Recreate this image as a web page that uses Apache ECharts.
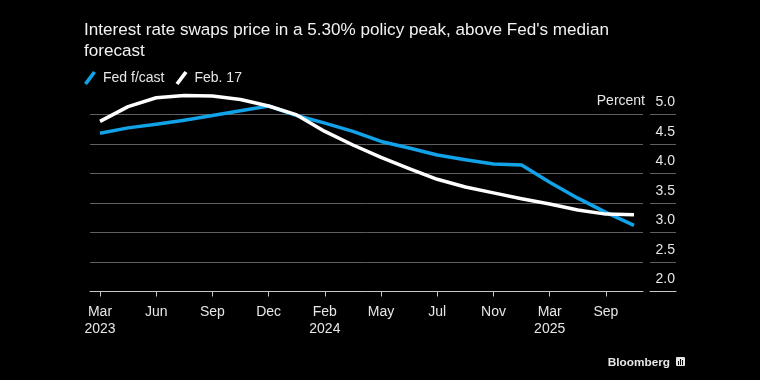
<!DOCTYPE html>
<html>
<head>
<meta charset="utf-8">
<style>
    html, body { margin: 0; padding: 0; background: #000; }
    #chart { width: 760px; height: 380px; }
</style>
<script src="https://cdn.jsdelivr.net/npm/echarts@6/dist/echarts.min.js"></script>
</head>
<body>
<div id="chart"></div>
<script>
// blank entries are the unlabelled steps between ticks
const categories = ['Mar\n2023', '', 'Jun', '', 'Sep', '', 'Dec', '', 'Feb\n2024', '', 'May', '', 'Jul', '', 'Nov', '', 'Mar\n2025', '', 'Sep', ''];
const fedForecast = [4.68, 4.77, 4.83, 4.90, 4.98, 5.06, 5.14, 4.98, 4.85, 4.71, 4.54, 4.43, 4.31, 4.23, 4.16, 4.14, 3.85, 3.58, 3.34, 3.12];
const feb17 = [4.88, 5.13, 5.28, 5.32, 5.31, 5.25, 5.14, 4.99, 4.71, 4.48, 4.27, 4.08, 3.90, 3.77, 3.67, 3.57, 3.48, 3.38, 3.31, 3.30];
const yMin = 2.0;
const yMax = 5.0;
const yStep = 0.5;

const FONT = '"Liberation Sans", Arial, sans-serif';
const slash = 'path://M0 12 L9 0 L12 2 L3 14 Z';
const GRID_LINE = '#5f5f5f';
const AXIS_LINE = '#c8c8c8';

const chart = echarts.init(document.getElementById('chart'));

// grids: 0 = long rules behind the lines, 1 = the data, 2 = short rules + labels on the right
const gridBox = [
    { left: 90, width: 553, top: 114.3, height: 177.2 },
    { left: 100, width: 534, top: 114.3, height: 177.2 },
    { left: 650, width: 26, top: 114.3, height: 177.2 }
];

function ruleAxis(gridIndex) {
    return {
        type: 'value',
        gridIndex: gridIndex,
        min: yMin,
        max: yMax,
        interval: yStep,
        axisLine: { show: false },
        axisTick: { show: false },
        axisLabel: { show: false },
        splitLine: { show: true, lineStyle: { color: GRID_LINE, width: 1 } }
    };
}

function emptyX(gridIndex) {
    return {
        type: 'value',
        gridIndex: gridIndex,
        min: 0,
        max: 1,
        axisLine: { show: true, lineStyle: { color: AXIS_LINE, width: 1 } },
        axisTick: { show: false },
        axisLabel: { show: false },
        splitLine: { show: false }
    };
}

const option = {
    backgroundColor: '#000',
    animation: false,
    textStyle: { fontFamily: FONT },
    title: [
        {
            text: "Interest rate swaps price in a 5.30% policy peak, above Fed's median\nforecast",
            left: 79, top: 15,
            textStyle: { color: '#f2f2f2', fontSize: 17.1, fontWeight: 'normal', lineHeight: 21, fontFamily: FONT }
        },
        {
            text: 'Percent',
            right: 110, top: 89,
            textStyle: { color: '#e6e6e6', fontSize: 14, fontWeight: 'normal', fontFamily: FONT }
        },
        {
            text: 'Bloomberg',
            right: 85, top: 352,
            textStyle: { color: '#e6e6e6', fontSize: 11.8, fontWeight: 'bold', fontFamily: FONT }
        }
    ],
    legend: {
        left: 79, top: 66,
        icon: slash,
        itemWidth: 12,
        itemHeight: 14,
        itemGap: 11,
        selectedMode: false,
        textStyle: { color: '#e6e6e6', fontSize: 14, fontFamily: FONT, padding: [0, 0, 0, 2] },
        data: ['Fed f/cast', 'Feb. 17']
    },
    grid: gridBox,
    xAxis: [
        emptyX(0),
        {
            type: 'category',
            gridIndex: 1,
            boundaryGap: false,
            data: categories,
            axisLine: { show: false },
            axisTick: { show: true, alignWithLabel: true, interval: 1, length: 5, lineStyle: { color: AXIS_LINE } },
            axisLabel: { interval: 1, color: '#e6e6e6', fontSize: 14, margin: 12, lineHeight: 17, fontFamily: FONT },
            splitLine: { show: false }
        },
        emptyX(2)
    ],
    yAxis: [
        ruleAxis(0),
        Object.assign(ruleAxis(1), { splitLine: { show: false } }),
        Object.assign(ruleAxis(2), {
            position: 'right',
            axisLabel: {
                show: true,
                inside: true,
                margin: 1,
                align: 'right',
                verticalAlign: 'bottom',
                color: '#e6e6e6',
                fontSize: 14,
                padding: [0, 0, 5, 0],
                fontFamily: FONT,
                formatter: function (v) { return v.toFixed(1); }
            }
        })
    ],
    graphic: [
        // small terminal mark next to the wordmark
        { type: 'rect', left: 676, top: 357, shape: { width: 9, height: 9, r: 1 }, style: { fill: '#e6e6e6' } },
        { type: 'rect', left: 678, top: 361, shape: { width: 1, height: 4 }, style: { fill: '#000' } },
        { type: 'rect', left: 680, top: 359, shape: { width: 1, height: 6 }, style: { fill: '#000' } },
        { type: 'rect', left: 682, top: 360, shape: { width: 1, height: 5 }, style: { fill: '#000' } }
    ],
    series: [
        {
            name: 'Fed f/cast',
            type: 'line',
            xAxisIndex: 1,
            yAxisIndex: 1,
            data: fedForecast,
            clip: false,
            symbol: 'none',
            itemStyle: { color: '#12a2e8' },
            lineStyle: { color: '#12a2e8', width: 3.5, cap: 'butt', join: 'round' }
        },
        {
            name: 'Feb. 17',
            type: 'line',
            xAxisIndex: 1,
            yAxisIndex: 1,
            data: feb17,
            clip: false,
            symbol: 'none',
            itemStyle: { color: '#ffffff' },
            lineStyle: { color: '#ffffff', width: 3.5, cap: 'butt', join: 'round' }
        }
    ]
};

chart.setOption(option);
</script>
</body>
</html>
